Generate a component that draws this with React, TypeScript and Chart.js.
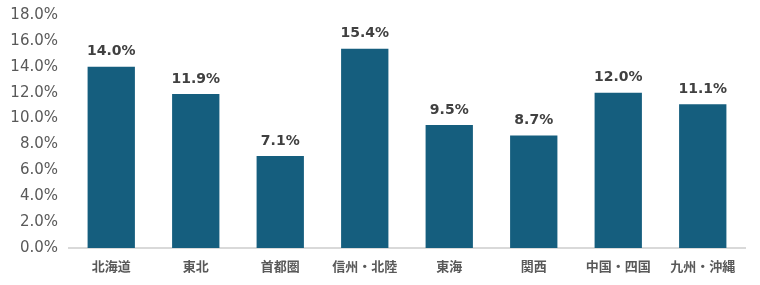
import React, { useEffect, useRef } from "react";
import { Chart, registerables } from "chart.js";

Chart.register(...registerables);

const categories = ["北海道", "東北", "首都圏", "信州・北陸", "東海", "関西", "中国・四国", "九州・沖縄"];
const values = [14.0, 11.9, 7.1, 15.4, 9.5, 8.7, 12.0, 11.1];
const yMin = 0;
const yMax = 18;
const yStep = 2;

const labelPlugin = {
  id: "barLabels",
  afterDatasetsDraw(chart: any) {
    const ctx = chart.ctx;
    const meta = chart.getDatasetMeta(0);
    ctx.save();
    ctx.font = "bold 14px 'DejaVu Sans'";
    ctx.fillStyle = "#404040";
    ctx.textAlign = "center";
    ctx.textBaseline = "bottom";
    meta.data.forEach((bar: any, i: number) => {
      ctx.fillText(values[i].toFixed(1) + "%", bar.x, bar.y - 8);
    });
    ctx.restore();
  },
};

export default function App() {
  const ref = useRef<HTMLCanvasElement>(null);
  useEffect(() => {
    document.body.style.margin = "0";
    const chart = new Chart(ref.current!, {
      type: "bar",
      data: {
        labels: categories,
        datasets: [
          {
            data: values,
            backgroundColor: "#155E7E",
            categoryPercentage: 1,
            barPercentage: 0.56,
          },
        ],
      },
      options: {
        animation: false,
        responsive: false,
        maintainAspectRatio: false,
        layout: { padding: { left: 0, right: 15, top: 15, bottom: 0 } },
        plugins: { legend: { display: false }, tooltip: { enabled: false } },
        scales: {
          x: {
            grid: { display: false, drawTicks: false },
            border: { display: true, color: "#D9D9D9", width: 2 },
            ticks: {
              padding: 10,
              color: "#595959",
              font: { family: "'Noto Sans CJK JP'", size: 13, weight: "bold" },
              maxRotation: 0,
              autoSkip: false,
            },
            afterFit(axis: any) {
              axis.height = 37;
            },
          },
          y: {
            min: yMin,
            max: yMax,
            grid: { display: false, drawTicks: false },
            border: { display: false },
            ticks: {
              stepSize: yStep,
              padding: 11,
              color: "#595959",
              font: { family: "'DejaVu Sans'", size: 15 },
              callback: (v: any) => Number(v).toFixed(1) + "%",
            },
            afterFit(axis: any) {
              axis.width = 69;
              axis.paddingTop = 0;
              axis.paddingBottom = 0;
            },
          },
        },
      },
      plugins: [labelPlugin],
    });
    return () => chart.destroy();
  }, []);
  return (
    <div style={{ width: 760, height: 285 }}>
      <canvas ref={ref} width={760} height={285} />
    </div>
  );
}
